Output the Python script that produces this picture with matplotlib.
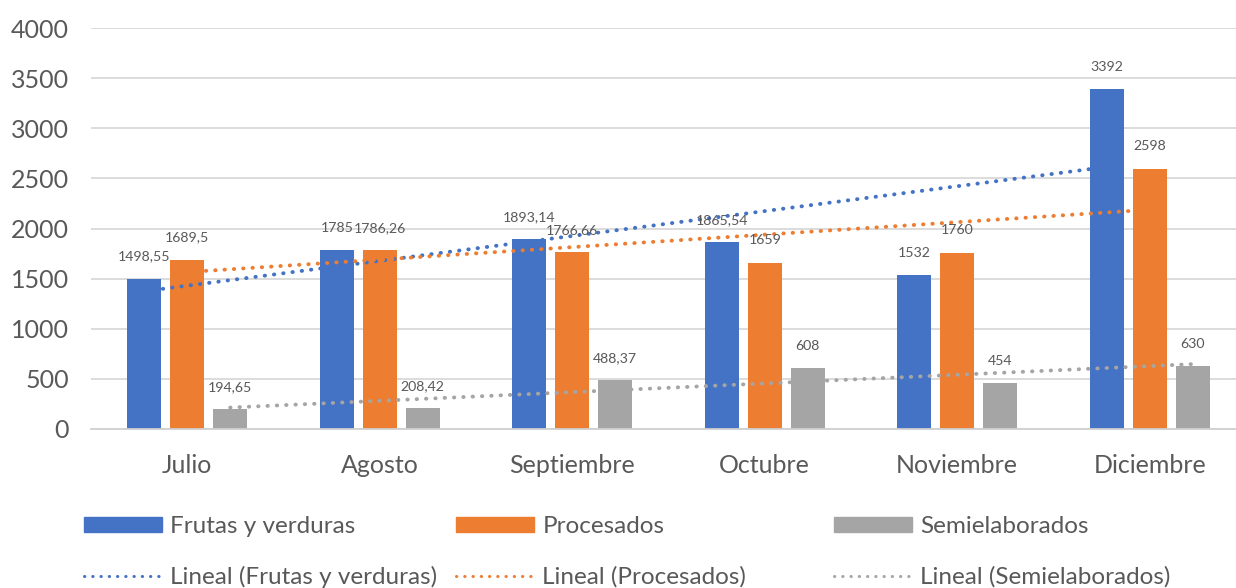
import numpy as np
import matplotlib.pyplot as plt
from matplotlib.patches import Patch
from matplotlib.lines import Line2D

plt.rcParams['font.family'] = ['Lato', 'DejaVu Sans']

meses = ['Julio', 'Agosto', 'Septiembre', 'Octubre', 'Noviembre', 'Diciembre']
frutas = [1498.55, 1785, 1893.14, 1865.54, 1532, 3392]
procesados = [1689.5, 1786.26, 1766.66, 1659, 1760, 2598]
semielaborados = [194.65, 208.42, 488.37, 608, 454, 630]
etiquetas_frutas = ['1498,55', '1785', '1893,14', '1865,54', '1532', '3392']
etiquetas_proc = ['1689,5', '1786,26', '1766,66', '1659', '1760', '2598']
etiquetas_semi = ['194,65', '208,42', '488,37', '608', '454', '630']
yticks = [0, 500, 1000, 1500, 2000, 2500, 3000, 3500, 4000]

azul = '#4472C4'
naranja = '#ED7D31'
gris = '#A5A5A5'
texto = '#595959'

fig = plt.figure(figsize=(12.36, 5.88), dpi=100)
ax = fig.add_axes([91/1236, 1 - 429/588, 1155/1236, (429 - 28)/588])

x = np.arange(len(meses))
ancho = 0.177
paso = 0.223
series = [
    (frutas, etiquetas_frutas, azul, 'Frutas y verduras', -paso),
    (procesados, etiquetas_proc, naranja, 'Procesados', 0),
    (semielaborados, etiquetas_semi, gris, 'Semielaborados', paso),
]

for vals, etq, color, nombre, off in series:
    ax.bar(x + off, vals, width=ancho, color=color, zorder=2)
    for xi, v, t in zip(x + off, vals, etq):
        ax.annotate(t, (xi, v), xytext=(0, 16), textcoords='offset points',
                    ha='center', va='center', fontsize=10.2, color=texto, zorder=4)

# lineas de tendencia lineal (como en Excel)
for vals, etq, color, nombre, off in series:
    m, b = np.polyfit(x, vals, 1)
    xs = x + off
    ax.plot([xs[0], xs[-1]], [b, m * x[-1] + b], color=color, lw=2.8,
            linestyle=(0, (0.1, 2.3)), dash_capstyle='round', zorder=3)

ax.set_xlim(-0.5, 5.5)
ax.set_ylim(0, 4000)
ax.set_yticks(yticks)
ax.set_xticks(x)
ax.set_xticklabels(meses)
ax.yaxis.grid(True, color='#D9D9D9', lw=1.3, zorder=0)
ax.set_axisbelow(True)
for s in ['top', 'right', 'left']:
    ax.spines[s].set_visible(False)
ax.spines['bottom'].set_color('#D0D0D0')
ax.spines['bottom'].set_linewidth(1.3)
ax.tick_params(axis='y', length=0, pad=16, labelsize=18, labelcolor=texto)
ax.tick_params(axis='x', length=0, pad=18, labelsize=18, labelcolor=texto)

# leyenda: tres columnas colocadas a mano
col_x = [84, 456, 834]
for (vals, etq, color, nombre, off), cx in zip(series, col_x):
    h = [Patch(color=color),
         Line2D([0], [0], color=color, lw=2.2, linestyle=(0, (0.1, 2.6)), dash_capstyle='round')]
    fig.legend(h, [nombre, 'Lineal (' + nombre + ')'], loc='upper left',
               bbox_to_anchor=(cx/1236, 1 - 516/588), frameon=False, fontsize=17.5,
               handlelength=3.2, handleheight=0.6, handletextpad=0.35, labelspacing=1.2,
               labelcolor=texto, borderaxespad=0, borderpad=0)

fig.savefig('out.png', dpi=100)
